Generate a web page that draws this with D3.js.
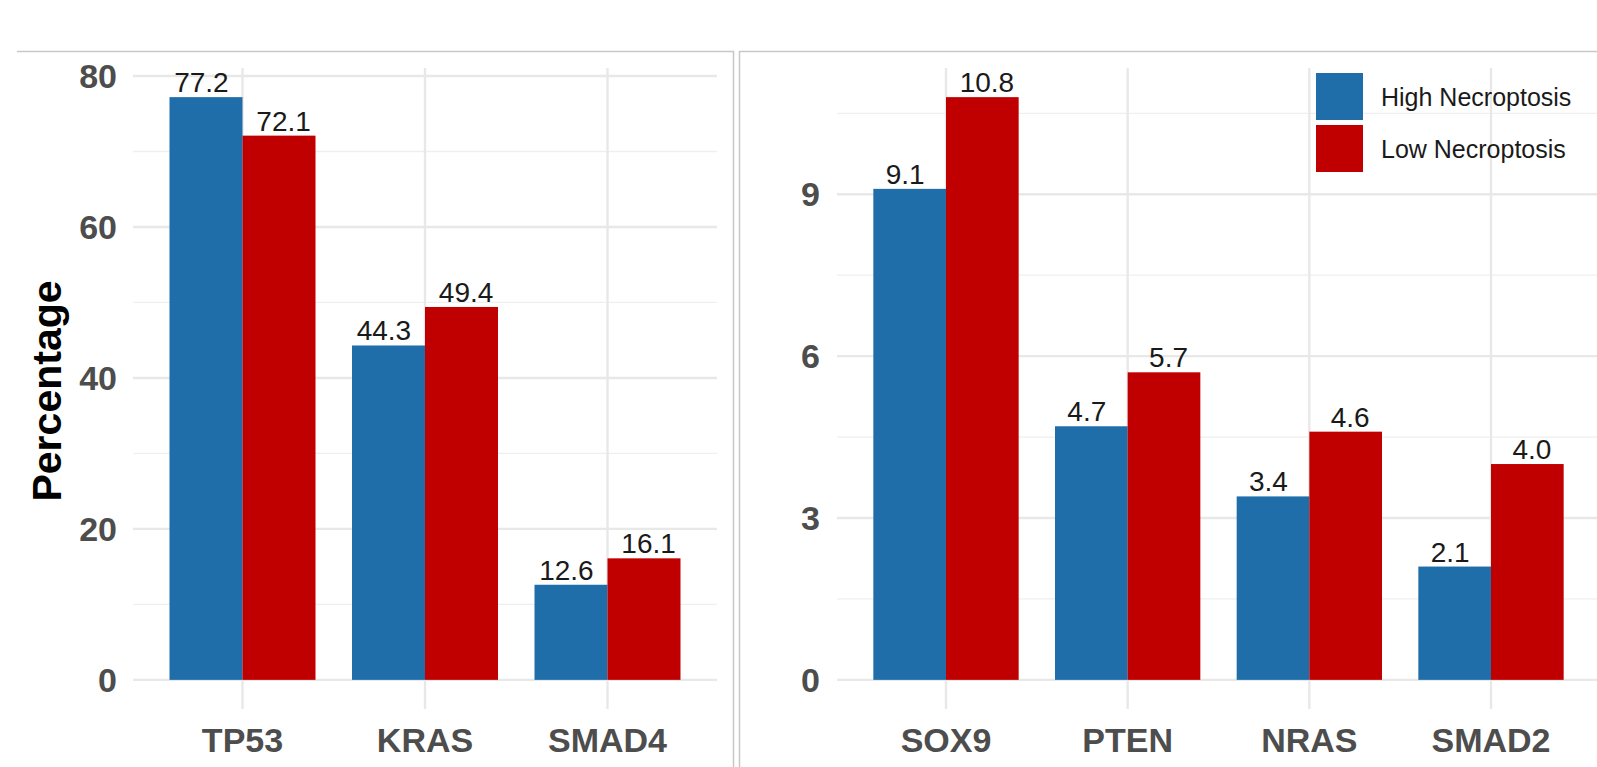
<!DOCTYPE html>
<html>
<head>
<meta charset="utf-8">
<script src="https://cdn.jsdelivr.net/npm/d3@7"></script>
<style>
  html, body { margin: 0; padding: 0; background: #fff; }
  svg { display: block; font-family: "Liberation Sans", Arial, sans-serif; }
</style>
</head>
<body>
<div id="chart"></div>
<script>
// data
const groups = ['High Necroptosis', 'Low Necroptosis'];
const colors = ['#1f6eaa', '#c00000'];

const leftGenes = ['TP53', 'KRAS', 'SMAD4'];
const leftHigh = [77.2, 44.3, 12.6];
const leftLow = [72.1, 49.4, 16.1];
const leftTicks = [0, 20, 40, 60, 80];
const leftMinor = [10, 30, 50, 70];

const rightGenes = ['SOX9', 'PTEN', 'NRAS', 'SMAD2'];
const rightHigh = [9.1, 4.7, 3.4, 2.1];
const rightLow = [10.8, 5.7, 4.6, 4.0];
const rightTicks = [0, 3, 6, 9];
const rightMinor = [1.5, 4.5, 7.5, 10.5];

const width = 1597, height = 767;

const svg = d3.select('#chart')
  .append('svg')
  .attr('width', width)
  .attr('height', height);

// 面板边框
const frame = svg.append('g').attr('class', 'frames')
  .attr('stroke', '#c8c8c8')
  .attr('stroke-width', 1.5)
  .attr('fill', 'none');
frame.append('path').attr('d', `M17,51.5 H733.5 V${height}`);
frame.append('path').attr('d', `M739.5,${height} V51.5 H${width}`);

/**
 * draw one panel of dodged bars
 */
function drawPanel(opts) {
  const { genes, high, low, ticks, minor, x0, x1, yTop, yBottom, tickX } = opts;

  const rows = genes.map((g, i) => ({ gene: g, values: [high[i], low[i]] }));
  const maxVal = d3.max(rows, d => d3.max(d.values));

  // ggplot style expansion 5%
  const y = d3.scaleLinear()
    .domain([-0.05 * maxVal, 1.05 * maxVal])
    .range([yBottom, yTop]);

  const x = d3.scalePoint()
    .domain(genes)
    .range([x0, x1])
    .padding(0.6);
  const step = x.step();

  const g = svg.append('g');

  // minor grid
  g.append('g')
    .selectAll('line')
    .data(minor)
    .enter().append('line')
    .attr('x1', x0).attr('x2', x1)
    .attr('y1', d => y(d)).attr('y2', d => y(d))
    .attr('stroke', '#efefef')
    .attr('stroke-width', 1.3);

  // major grid
  g.append('g')
    .selectAll('line')
    .data(ticks)
    .enter().append('line')
    .attr('x1', x0).attr('x2', x1)
    .attr('y1', d => y(d)).attr('y2', d => y(d))
    .attr('stroke', '#e8e8e8')
    .attr('stroke-width', 2.4);

  g.append('g')
    .selectAll('line')
    .data(genes)
    .enter().append('line')
    .attr('x1', d => x(d)).attr('x2', d => x(d))
    .attr('y1', yTop).attr('y2', yBottom)
    .attr('stroke', '#e8e8e8')
    .attr('stroke-width', 2.4);

  // bars
  const barW = step * 0.4;
  const geneG = g.append('g')
    .selectAll('g')
    .data(rows)
    .enter().append('g');

  geneG.selectAll('rect')
    .data(d => d.values.map((v, k) => ({ gene: d.gene, v, k })))
    .enter().append('rect')
    .attr('x', d => x(d.gene) + (d.k === 0 ? -barW : 0))
    .attr('width', barW)
    .attr('y', d => y(d.v))
    .attr('height', d => y(0) - y(d.v))
    .attr('fill', d => colors[d.k]);

  // value labels (dodge 0.9)
  geneG.selectAll('text')
    .data(d => d.values.map((v, k) => ({ gene: d.gene, v, k })))
    .enter().append('text')
    .attr('x', d => x(d.gene) + (d.k === 0 ? -1 : 1) * step * 0.225)
    .attr('y', d => y(d.v) - 5)
    .attr('text-anchor', 'middle')
    .attr('fill', '#1a1a1a')
    .style('font-size', '28px')
    .text(d => d.v.toFixed(1));

  // y tick labels
  g.append('g')
    .selectAll('text')
    .data(ticks)
    .enter().append('text')
    .attr('x', tickX)
    .attr('y', d => y(d))
    .attr('dy', '0.36em')
    .attr('text-anchor', 'end')
    .attr('fill', '#4d4d4d')
    .style('font-size', '34px')
    .style('font-weight', 'bold')
    .text(d => d);

  // x labels
  g.append('g')
    .selectAll('text')
    .data(genes)
    .enter().append('text')
    .attr('x', d => x(d))
    .attr('y', 752)
    .attr('text-anchor', 'middle')
    .attr('fill', '#4d4d4d')
    .style('font-size', '34px')
    .style('font-weight', 'bold')
    .text(d => d);
}

drawPanel({
  genes: leftGenes, high: leftHigh, low: leftLow,
  ticks: leftTicks, minor: leftMinor,
  x0: 133, x1: 717, yTop: 68, yBottom: 709, tickX: 117
});

drawPanel({
  genes: rightGenes, high: rightHigh, low: rightLow,
  ticks: rightTicks, minor: rightMinor,
  x0: 837, x1: 1600, yTop: 68, yBottom: 709, tickX: 820
});

// y axis title
svg.append('text')
  .attr('transform', 'translate(61,391) rotate(-90)')
  .attr('text-anchor', 'middle')
  .attr('fill', '#000')
  .style('font-size', '41px')
  .style('font-weight', 'bold')
  .text('Percentage');

// legend
const legend = svg.append('g').attr('class', 'legend');
const item = legend.selectAll('g')
  .data(groups)
  .enter().append('g')
  .attr('transform', (d, i) => `translate(1316,${73 + i * 52})`);
item.append('rect')
  .attr('width', 47)
  .attr('height', 47)
  .attr('fill', (d, i) => colors[i]);
item.append('text')
  .attr('x', 65)
  .attr('y', 23.5)
  .attr('dy', '0.36em')
  .attr('fill', '#1a1a1a')
  .style('font-size', '25px')
  .text(d => d);
</script>
</body>
</html>
